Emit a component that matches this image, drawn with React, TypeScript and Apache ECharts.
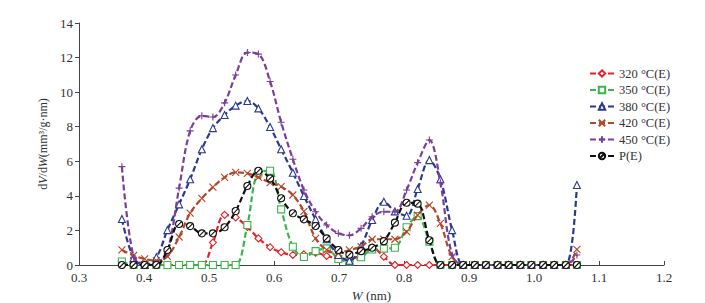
import React, { useEffect, useRef } from "react";
import * as echarts from "echarts";

const poreWidth = [
  0.366, 0.384, 0.401, 0.419, 0.436, 0.454, 0.471, 0.489, 0.506, 0.524, 0.541,
  0.559, 0.576, 0.594, 0.611, 0.629, 0.646, 0.664, 0.681, 0.699, 0.716, 0.734,
  0.751, 0.769, 0.786, 0.804, 0.821, 0.839, 0.856, 0.874, 0.891, 0.909, 0.926,
  0.944, 0.961, 0.979, 0.996, 1.014, 1.031, 1.049, 1.066,
];

const s320 = [
  0, 0, 0, 0, 0, 0, 0, 0, 1.3, 2.9, 2.75, 2.2, 1.54, 1.03, 0.74, 0.58, 0.62,
  0.71, 0.52, 0.39, 0.35, 0.58, 1.02, 0.48, 0, 0, 0, 0, 0, 0, 0, 0, 0, 0, 0, 0,
  0, 0, 0, 0, 0,
];
const s350 = [
  0.2, 0, 0, 0, 0, 0, 0, 0, 0, 0, 0, 2.31, 5.34, 5.45, 3.22, 1.06, 0.46, 0.8,
  0.96, 0.35, 0.2, 0.45, 0.9, 0.95, 1.0, 2.18, 2.83, 1.35, 0, 0, 0, 0, 0, 0, 0,
  0, 0, 0, 0, 0, 0,
];
const s380 = [
  2.66, 0.4, 0, 0.45, 2.02, 3.51, 4.96, 6.7, 7.92, 8.68, 9.22, 9.49, 9.06, 7.98,
  6.7, 5.34, 3.99, 2.64, 1.49, 0.58, 0.25, 1.1, 2.6, 3.66, 3.1, 2.85, 4.4, 6.07,
  4.96, 2.02, 0, 0, 0, 0, 0, 0, 0, 0, 0, 0, 4.63,
];
const s420 = [
  0.87, 0.55, 0.35, 0.25, 0.5, 1.62, 3.0, 3.86, 4.5, 5.07, 5.36, 5.3, 5.07,
  4.76, 4.53, 4.05, 3.1, 1.54, 0.87, 0.68, 0.87, 1.06, 1.49, 1.49, 1.49, 1.93,
  2.89, 3.47, 2.41, 0.48, 0, 0, 0, 0, 0, 0, 0, 0, 0, 0, 0.9,
];
const s450 = [
  5.69, 0.45, 0.05, 0, 0.8, 4.45, 7.76, 8.63, 8.56, 9.38, 10.99, 12.29, 12.2,
  10.62, 8.26, 6.12, 4.34, 3.08, 2.31, 1.83, 1.72, 2.12, 2.79, 3.08, 3.08, 4.34,
  5.92, 7.23, 4.76, 0.58, 0, 0, 0, 0, 0, 0, 0, 0, 0, 0, 0.58,
];
const sPE = [
  0, 0, 0, 0, 0.87, 2.37, 2.25, 1.83, 1.83, 2.18, 3.12, 4.57, 5.45, 5.01, 3.86,
  2.99, 2.64, 2.26, 1.54, 0.87, 0.6, 0.8, 1.0, 1.38, 2.45, 3.6, 3.55, 1.43, 0, 0,
  0, 0, 0, 0, 0, 0, 0, 0, 0, 0, 0,
];

const seriesNames = ["320 °C(E)", "350 °C(E)", "380 °C(E)", "420 °C(E)", "450 °C(E)", "P(E)"];
const seriesValues = [s320, s350, s380, s420, s450, sPE];
const colors = ["#e8202a", "#3ab54a", "#2b3990", "#b2472b", "#7b3f98", "#111111"];
const symbols = [
  "diamond",
  "rect",
  "triangle",
  "path://M0,0L10,10M10,0L0,10",
  "path://M0,5L10,5M5,0L5,10",
  "path://M10,5A5,5,0,1,1,0,5A5,5,0,1,1,10,5ZM1.8,8.2L8.2,1.8",
];

const FONT = "Liberation Serif";

export default function App() {
  const ref = useRef<HTMLDivElement>(null);
  useEffect(() => {
    if (!ref.current) return;
    const chart = echarts.init(ref.current, undefined, { renderer: "svg" });
    const series = seriesNames.map((name, k) => ({
      name,
      type: "line",
      data: poreWidth.map((x, i) => [x, seriesValues[k][i]]),
      smooth: 0.35,
      symbol: symbols[k],
      symbolSize: 7,
      showSymbol: true,
      lineStyle: { color: colors[k], width: 2.2, type: [6, 3] },
      itemStyle: { color: "#ffffff", borderColor: colors[k], borderWidth: 1.1 },
      z: 2 + k,
    }));
    chart.setOption({
      animation: false,
      textStyle: { fontFamily: FONT },
      grid: { left: 79, right: 41, top: 23, bottom: 38, containLabel: false, outerBoundsMode: "none" },
      legend: {
        orient: "vertical",
        left: 584,
        top: 62,
        itemWidth: 24,
        itemHeight: 8,
        itemGap: 3.5,
        textStyle: { fontFamily: FONT, fontSize: 12.5, color: "#333" },
        data: seriesNames,
      },
      xAxis: {
        type: "value",
        min: 0.3,
        max: 1.2,
        interval: 0.1,
        name: "{i|W} (nm)",
        nameLocation: "middle",
        nameGap: 18,
        nameTextStyle: {
          fontFamily: FONT,
          fontSize: 13,
          color: "#333",
          rich: { i: { fontStyle: "italic", fontFamily: FONT, fontSize: 13, color: "#333" } },
        },
        axisLine: { lineStyle: { color: "#444", width: 1 } },
        axisTick: { inside: true, length: 4, lineStyle: { color: "#444" } },
        axisLabel: {
          fontFamily: FONT,
          fontSize: 13,
          color: "#333",
          margin: 6,
          formatter: (v: number) => v.toFixed(1),
        },
        splitLine: { show: false },
      },
      yAxis: {
        type: "value",
        min: 0,
        max: 14,
        interval: 2,
        name: "d{i|V}/d{i|W}(mm³/g·nm)",
        nameLocation: "middle",
        nameRotate: 90,
        nameGap: 19,
        nameTextStyle: {
          fontFamily: FONT,
          fontSize: 12,
          color: "#333",
          rich: { i: { fontStyle: "italic", fontFamily: FONT, fontSize: 12, color: "#333" } },
        },
        axisLine: { show: true, lineStyle: { color: "#444", width: 1 } },
        axisTick: { show: true, inside: false, length: 4, lineStyle: { color: "#444" } },
        axisLabel: { fontFamily: FONT, fontSize: 13, color: "#333", margin: 6 },
        splitLine: { show: false },
      },
      series,
    });
    return () => chart.dispose();
  }, []);
  return <div ref={ref} style={{ width: 705, height: 303, position: "absolute", left: 0, top: 0 }} />;
}
